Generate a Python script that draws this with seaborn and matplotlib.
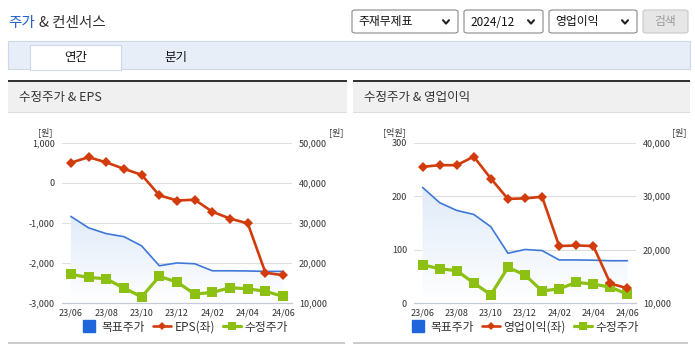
import numpy as np
import pandas as pd
import matplotlib
matplotlib.use("Agg")
import matplotlib.pyplot as plt
import seaborn as sns
from matplotlib.patches import Rectangle, FancyBboxPatch
from matplotlib.lines import Line2D
from matplotlib.colors import LinearSegmentedColormap
from matplotlib.ticker import FuncFormatter

# ---------------- data ----------------
months = ["23/06", "23/07", "23/08", "23/09", "23/10", "23/11", "23/12",
          "24/01", "24/02", "24/03", "24/04", "24/05", "24/06"]
target_price = [31650, 28800, 27350, 26600, 24300, 19350, 20050,
                19850, 18100, 18100, 18050, 17950, 17950]
adj_price = [17200, 16450, 16100, 13800, 11600, 16700, 15300,
             12300, 12700, 13900, 13600, 13000, 11700]
eps = [500, 640, 510, 350, 200, -310, -440, -420, -720, -890, -1010, -2240, -2300]
op_income = [255, 258, 258, 274, 233, 195, 196, 199, 107, 108, 107, 37, 28]

eps_ticks = [-3000, -2000, -1000, 0, 1000]
price_ticks_left = [10000, 20000, 30000, 40000, 50000]
op_ticks = [0, 100, 200, 300]
price_ticks_right = [10000, 20000, 30000, 40000]

legend_left = ["목표주가", "EPS(좌)", "수정주가"]
legend_right = ["목표주가", "영업이익(좌)", "수정주가"]

# ---------------- style ----------------
sns.set_theme(style="white")
plt.rcParams["font.family"] = ["Noto Sans CJK KR", "DejaVu Sans"]

BLUE = "#3d78d8"
BLUE_LEG = "#1f66dd"
RED = "#d23c0c"
GREEN = "#8cc012"
TXT = "#333333"

W, H = 695, 349
fig = plt.figure(figsize=(W / 100, H / 100), dpi=100)
fig.patch.set_facecolor("white")


def fx(x):
    return x / W


def fy(y):
    return 1 - y / H


def rect(x0, y0, x1, y1, **kw):
    fig.patches.append(Rectangle((fx(x0), fy(y1)), (x1 - x0) / W, (y1 - y0) / H,
                                 transform=fig.transFigure, **kw))


def rbox(x0, y0, x1, y1, **kw):
    fig.patches.append(FancyBboxPatch((fx(x0), fy(y1)), (x1 - x0) / W, (y1 - y0) / H,
                                      boxstyle="round,pad=0,rounding_size=0.005",
                                      transform=fig.transFigure, **kw))


def chevron(cx, cy):
    fig.lines.append(Line2D([fx(cx - 3), fx(cx), fx(cx + 3)],
                            [fy(cy - 1.8), fy(cy + 1.6), fy(cy - 1.8)],
                            transform=fig.transFigure, color="#222222", lw=1.5))


# ---------------- header ----------------
fig.text(fx(8), fy(23), "주가", color="#1f5fc8", fontsize=10.5, va="center", ha="left")
fig.text(fx(39), fy(23), "& 컨센서스", color=TXT, fontsize=10.5, va="center", ha="left")

for (x0, x1, label) in [(352, 458, "주재무제표"), (464, 543, "2024/12"), (549, 637, "영업이익")]:
    rbox(x0, 10, x1, 33, facecolor="white", edgecolor="#8a8a8a", lw=0.8)
    fig.text(fx(x0 + 6), fy(22), label, fontsize=8.5, color="#111111", va="center", ha="left")
    chevron(x1 - 12, 22)
rbox(643, 10, 688, 33, facecolor="#e6e6e6", edgecolor="#c8c8c8", lw=0.8)
fig.text(fx(665.5), fy(22), "검색", fontsize=8.5, color="#9a9a9a", va="center", ha="center")

# tabs
rect(8, 41, 690, 69, facecolor="#e8eef8", edgecolor="#cfd8e6", lw=0.8)
rect(30, 45, 121, 69.6, facecolor="white", edgecolor="#cfd8e6", lw=0.8)
rect(30.5, 68, 120.5, 70, facecolor="white", edgecolor="none")
fig.text(fx(75.5), fy(57), "연간", fontsize=9, color="#111111", va="center", ha="center")
fig.text(fx(176), fy(57), "분기", fontsize=9, color="#111111", va="center", ha="center")

# panels
for (x0, x1, title) in [(8, 347, "수정주가 & EPS"), (353, 690, "수정주가 & 영업이익")]:
    rect(x0, 82, x1, 112, facecolor="#f0f0f0", edgecolor="none")
    rect(x0, 79.5, x1, 82, facecolor="#333333", edgecolor="none")
    rect(x0, 112, x1, 113, facecolor="#dddddd", edgecolor="none")
    rect(x0, 342, x1 - 2, 344, facecolor="#cccccc", edgecolor="none")
    fig.text(fx(x0 + 11), fy(97.5), title, fontsize=9, color=TXT, va="center", ha="left")

# ---------------- charts ----------------
x = np.arange(len(months))
grad_cmap = LinearSegmentedColormap.from_list("g", ["#ffffff", "#e0ebf9"])


def make_chart(left_px, right_px, left_vals, left_ticks, right_ticks, left_unit,
               legend_labels, legend_cx, left_unit_x, right_unit_x):
    top, bottom = 142.7, 303.3
    ax = fig.add_axes([fx(left_px), fy(bottom), (right_px - left_px) / W, (bottom - top) / H])
    ax2 = ax.twinx()
    ax.set_zorder(ax2.get_zorder() + 1)
    ax.patch.set_visible(False)

    ylo, yhi = right_ticks[0], right_ticks[-1]
    df = pd.DataFrame({"x": x, "target": target_price, "adj": adj_price, "left": left_vals})

    # gradient area under target price
    poly = ax2.fill_between(df["x"], df["target"], ylo, color="none", lw=0)
    grad = np.linspace(1, 0, 256).reshape(-1, 1)
    im = ax2.imshow(grad, aspect="auto", cmap=grad_cmap, origin="upper",
                    extent=[-0.5, 12.5, ylo, max(target_price)], zorder=1)
    im.set_clip_path(poly.get_paths()[0], transform=ax2.transData)

    sns.lineplot(data=df, x="x", y="target", ax=ax2, color=BLUE, lw=1.2, zorder=3, legend=False)
    sns.lineplot(data=df, x="x", y="adj", ax=ax2, color=GREEN, lw=2.3, marker="s",
                 markersize=6.5, markeredgewidth=0, zorder=4, legend=False)
    sns.lineplot(data=df, x="x", y="left", ax=ax, color=RED, lw=1.9, marker="D",
                 markersize=5, markeredgewidth=0, zorder=5, legend=False)

    ax.set_xlim(-0.5, 12.5)
    ax2.set_xlim(-0.5, 12.5)
    ax.set_ylim(left_ticks[0], left_ticks[-1])
    ax2.set_ylim(ylo, yhi)
    ax.set_yticks(left_ticks)
    ax2.set_yticks(right_ticks)
    fmt = FuncFormatter(lambda v, p: f"{v:,.0f}")
    ax.yaxis.set_major_formatter(fmt)
    ax2.yaxis.set_major_formatter(fmt)

    ax.set_xticks(x[::2])
    ax.set_xticklabels(months[::2])
    ax.set_xticks([-0.5, 0.5, 2.5, 4.5, 6.5, 8.5, 10.5, 12.5], minor=True)
    ax.tick_params(axis="x", which="major", length=0, pad=4, labelsize=6.5, labelcolor=TXT)
    ax.tick_params(axis="x", which="minor", length=4, width=0.8, color="#c5ccd8", direction="out")
    ax.tick_params(axis="y", length=0, pad=5, labelsize=6.5, labelcolor=TXT)
    ax2.tick_params(axis="y", length=0, pad=5, labelsize=6.5, labelcolor=TXT)
    ax2.tick_params(axis="x", length=0, labelbottom=False)
    ax.set_xlabel("")
    ax.set_ylabel("")
    ax2.set_xlabel("")
    ax2.set_ylabel("")

    ax2.grid(True, axis="y", color="#dedede", lw=0.8)
    ax2.set_axisbelow(True)
    ax.grid(False)
    for a in (ax, ax2):
        for s in ("top", "left", "right"):
            a.spines[s].set_visible(False)
    ax2.spines["bottom"].set_visible(False)
    ax.spines["bottom"].set_color("#c5ccd8")
    ax.spines["bottom"].set_linewidth(0.9)

    fig.text(fx(left_unit_x), fy(132), left_unit, fontsize=6.5, color=TXT, ha="center", va="center")
    fig.text(fx(right_unit_x), fy(132), "[원]", fontsize=6.5, color=TXT, ha="center", va="center")

    handles = [
        Line2D([], [], marker="s", linestyle="none", markersize=9, color=BLUE_LEG),
        Line2D([], [], color=RED, lw=1.9, marker="D", markersize=4.5, markeredgewidth=0),
        Line2D([], [], color=GREEN, lw=2.3, marker="s", markersize=6, markeredgewidth=0),
    ]
    fig.legend(handles, legend_labels, loc="center", bbox_to_anchor=(fx(legend_cx), fy(327)),
               ncol=3, frameon=False, fontsize=8.5, handlelength=1.5, handletextpad=0.3,
               columnspacing=0.7, labelcolor=TXT)
    return ax, ax2


make_chart(62, 292, eps, eps_ticks, price_ticks_left, "[원]", legend_left, 184, 45, 336)
make_chart(414, 636, op_income, op_ticks, price_ticks_right, "[억원]", legend_right, 524, 394, 679)

fig.savefig("out.png", dpi=100, facecolor="white")
